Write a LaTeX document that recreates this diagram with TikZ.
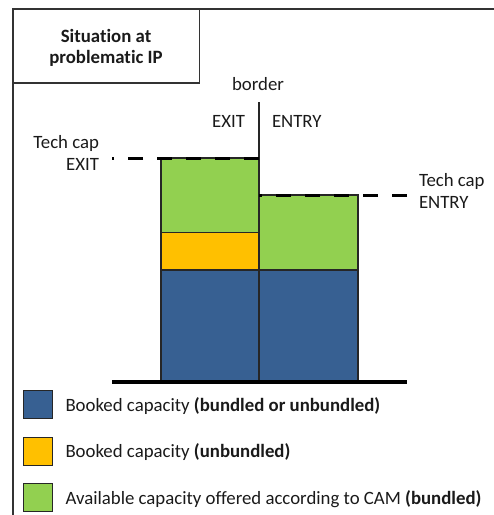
\documentclass[tikz,border=0pt]{standalone}
\usepackage{fontspec}
\setmainfont{Carlito}[RawFeature=-liga]
\definecolor{bookblue}{HTML}{376092}
\definecolor{unbyellow}{HTML}{FFC000}
\definecolor{camgreen}{HTML}{92D050}
\definecolor{txt}{HTML}{1A1A1A}
\begin{document}
\begin{tikzpicture}[x=1pt,y=-1pt,
  lbl/.style={inner sep=0pt,outer sep=0pt,text=txt,font=\fontsize{18.8}{21.5}\selectfont},
  bar/.style={draw=black!85,line width=1.4pt},
  frame/.style={draw=black!80,line width=1.6pt},
  capline/.style={line width=3pt,dash pattern=on 15pt off 14pt},
  legbox/.style={draw=black!85,line width=1.2pt,minimum width=29pt,minimum height=28pt,inner sep=0pt}]
\useasboundingbox (0,0) rectangle (494,515);
% frame and title box
\draw[frame] (13,515) -- (13,9) -- (494,9);
\draw[frame] (13,83) -- (199.5,83) -- (199.5,9);
\node[lbl,font=\bfseries\fontsize{18.8}{21.5}\selectfont,align=center,anchor=base] (title) at (106,63.5) {Situation at\\problematic IP};
% bars
\fill[bar,fill=bookblue] (161,270) rectangle (259,381);
\fill[bar,fill=unbyellow] (161,232.5) rectangle (259,270);
\fill[bar,fill=camgreen] (161,158) rectangle (259,232.5);
\fill[bar,fill=bookblue] (259,270) rectangle (358,381);
\fill[bar,fill=camgreen] (259,195) rectangle (358,270);
\draw[bar] (161,270) rectangle (259,381);
\draw[bar] (161,232.5) rectangle (259,270);
\draw[bar] (161,158) rectangle (259,232.5);
\draw[bar] (259,270) rectangle (358,381);
\draw[bar] (259,195) rectangle (358,270);
% border line
\coordinate (btop) at (259,102);
\coordinate (bbot) at (259,381);
\draw[line width=1.4pt,black!85] (btop) -- (bbot);
% baseline
\coordinate (gl) at (112,382);
\coordinate (gr) at (407,382);
\draw[line width=3.2pt,black] (gl) -- (gr);
% tech cap lines
\coordinate (ex1) at (259,158);
\coordinate (ex2) at (112,158);
\coordinate (en1) at (407,195);
\coordinate (en2) at (259,195);
\draw[capline] (ex1) -- (ex2);
\draw[capline] (en1) -- (en2);
% labels
\node[lbl,anchor=base] (border) at (258,90) {border};
\node[lbl,anchor=base east] (exit) at (245,127) {EXIT};
\node[lbl,anchor=base west] (entry) at (272,127) {ENTRY};
\node[lbl,anchor=base east] (tcl1) at (99,148) {Tech cap};
\node[lbl,anchor=base east] (tcl2) at (99,170) {EXIT};
\node[lbl,anchor=base west] (tcr1) at (419,186.5) {Tech cap};
\node[lbl,anchor=base west] (tcr2) at (419,208.5) {ENTRY};
% legend
\node[legbox,fill=bookblue] (lg1) at (37.7,404.5) {};
\node[legbox,fill=unbyellow] (lg2) at (37.7,451.5) {};
\node[legbox,fill=camgreen] (lg3) at (37.7,497.5) {};
\node[lbl,anchor=base west] (lt1) at (65.5,411) {Booked capacity \textbf{(bundled or unbundled)}};
\node[lbl,anchor=base west] (lt2) at (65.5,457.5) {Booked capacity \textbf{(unbundled)}};
\node[lbl,anchor=base west] (lt3) at (65.5,504) {Available capacity offered according to CAM \textbf{(bundled)}};
\end{tikzpicture}
\end{document}
